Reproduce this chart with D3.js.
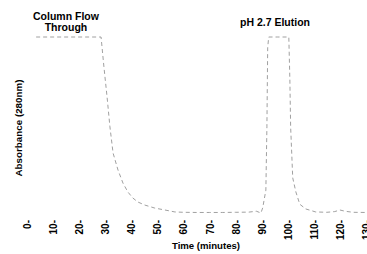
<!DOCTYPE html>
<html><head><meta charset="utf-8">
<script src="https://cdn.jsdelivr.net/npm/d3@7"></script>
<style>body{margin:0;background:#fff}svg{display:block}text{font-family:"Liberation Sans",Arial,sans-serif;font-weight:bold;fill:#000}</style>
</head><body>
<script>
// Chromatogram trace (time in minutes, relative absorbance, clipped at 1)
const times = [3.5,10,20,28.4,29.5,30.7,31.8,33.0,34.9,36.8,38.7,40.6,42.5,45.2,49.0,52.9,56.7,60,65,70,75,80,85,88,89.7,90.4,91.6,92.0,92.3,92.7,96,100.4,100.8,101.1,101.9,103.1,104.6,106.9,110.7,115,118,120,122,125,130,131];
const absorb = [1,1,1,1,0.83,0.66,0.49,0.341,0.244,0.17,0.119,0.085,0.0625,0.045,0.028,0.017,0.006,0.004,0.003,0.003,0.003,0.004,0.005,0.01,0.0,0.03,0.13,0.49,0.94,1,1,1,0.76,0.49,0.2,0.12,0.05,0.023,0.006,0.004,0.008,0.017,0.01,0.004,0.003,0.003];
const xTicks = [0,10,20,30,40,50,60,70,80,90,100,110,120,130];
const annotations = [
  {lines:["Column Flow","Through"], t:15},
  {lines:["pH 2.7 Elution"], t:95}
];

const W=367,H=254;
const svg=d3.select("body").append("svg").attr("width",W).attr("height",H);
const x=d3.scaleLinear().domain([0,130]).range([27,366]);
const y=d3.scaleLinear().domain([0,1]).range([213,37]);

const data=times.map((t,i)=>({t,a:absorb[i]}));
svg.append("path").datum(data)
  .attr("fill","none").attr("stroke","#888").attr("stroke-width",0.8)
  .attr("stroke-dasharray","4,3")
  .attr("d",d3.line().x(d=>x(d.t)).y(d=>y(d.a)));

// x axis
const ax=svg.append("g").attr("transform","translate(0,219)")
  .call(d3.axisBottom(x).tickValues(xTicks).tickSize(0).tickFormat(d=>d+"-"));
ax.select(".domain").remove();
ax.selectAll("text").attr("font-size",10).attr("font-family","Liberation Sans, Arial, sans-serif")
  .attr("font-weight","bold")
  .attr("transform","rotate(-90)").attr("text-anchor","end")
  .attr("x",-1).attr("y",0).attr("dy","0.35em");

svg.append("text").attr("x",206).attr("y",249).attr("text-anchor","middle")
  .attr("font-size",9.6).text("Time (minutes)");
svg.append("text").attr("transform","translate(21.5,128) rotate(-90)")
  .attr("text-anchor","middle").attr("font-size",9.8).text("Absorbance (280nm)");

// annotations
svg.append("text").attr("x",66).attr("y",19.5).attr("text-anchor","middle").attr("font-size",10.5).text(annotations[0].lines[0]);
svg.append("text").attr("x",66).attr("y",31).attr("text-anchor","middle").attr("font-size",10.5).text(annotations[0].lines[1]);
svg.append("text").attr("x",275).attr("y",26).attr("text-anchor","middle").attr("font-size",10.5).text(annotations[1].lines[0]);
</script>
</body></html>
